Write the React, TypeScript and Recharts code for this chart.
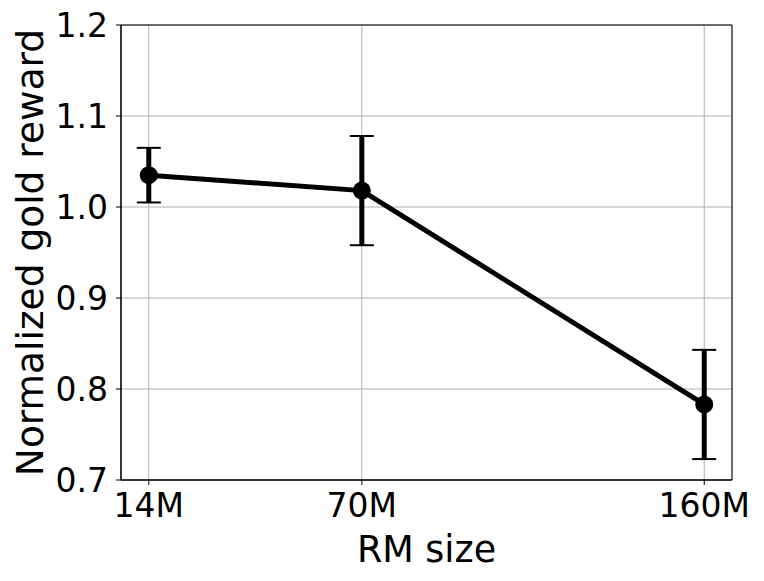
import {
  CartesianGrid,
  ErrorBar,
  Label,
  Line,
  LineChart,
  ReferenceArea,
  XAxis,
  YAxis,
} from "recharts";

const RM_SIZES = [14, 70, 160];
const GOLD_REWARD = [1.035, 1.018, 0.783];
const REWARD_ERR = [0.03, 0.06, 0.06];
const X_TICKS = [14, 70, 160];
const Y_TICKS = [0.7, 0.8, 0.9, 1.0, 1.1, 1.2];

const DATA = RM_SIZES.map((size, i) => ({
  size,
  reward: GOLD_REWARD[i],
  err: REWARD_ERR[i],
}));

const FONT = "'DejaVu Sans', sans-serif";
const X_DOMAIN: [number, number] = [6.7, 167.3];
const Y_DOMAIN: [number, number] = [0.7, 1.2];

function YTitle(props: any) {
  const vb = props.viewBox || { x: 0, y: 25, width: 121, height: 455 };
  const cx = 30;
  const cy = vb.y + vb.height / 2;
  return (
    <text
      x={cx}
      y={cy}
      transform={`rotate(-90 ${cx} ${cy})`}
      textAnchor="middle"
      dominantBaseline="central"
      fontSize={37.5}
      fontFamily={FONT}
      fill="#000"
    >
      Normalized gold reward
    </text>
  );
}

function XTitle(props: any) {
  const vb = props.viewBox || { x: 121, y: 480, width: 611, height: 101 };
  return (
    <text
      x={vb.x + vb.width / 2}
      y={562}
      textAnchor="middle"
      fontSize={36.5}
      fontFamily={FONT}
      fill="#000"
    >
      RM size
    </text>
  );
}

export default function App() {
  return (
    <div style={{ width: 764, height: 581, background: "#fff" }}>
      <style>{"body{margin:0}"}</style>
      <LineChart
        width={764}
        height={581}
        data={DATA}
        margin={{ top: 25, right: 32, left: 0, bottom: 0 }}
      >
        <CartesianGrid stroke="#b0b0b0" strokeWidth={1} />
        <XAxis
          type="number"
          dataKey="size"
          domain={X_DOMAIN}
          ticks={X_TICKS}
          allowDataOverflow
          tickFormatter={(v) => `${v}M`}
          height={101}
          stroke="#000"
          tickSize={5}
          tickMargin={9}
          tick={{ fontSize: 33, fill: "#000", fontFamily: FONT }}
        >
          <Label content={<XTitle />} />
        </XAxis>
        <YAxis
          type="number"
          domain={Y_DOMAIN}
          ticks={Y_TICKS}
          allowDataOverflow
          tickFormatter={(v) => v.toFixed(1)}
          width={121}
          stroke="#000"
          tickSize={5}
          tickMargin={8}
          tick={{ fontSize: 33, fill: "#000", fontFamily: FONT }}
        >
          <Label content={<YTitle />} />
        </YAxis>
        <ReferenceArea
          x1={X_DOMAIN[0]}
          x2={X_DOMAIN[1]}
          y1={Y_DOMAIN[0]}
          y2={Y_DOMAIN[1]}
          fill="none"
          stroke="#000"
          strokeWidth={1}
          ifOverflow="visible"
        />
        <Line
          dataKey="reward"
          stroke="#000"
          strokeWidth={5}
          dot={{ r: 9, fill: "#000", stroke: "#000", strokeWidth: 0 }}
          activeDot={false}
          isAnimationActive={false}
        >
          <ErrorBar dataKey="err" direction="y" width={0} stroke="#000" strokeWidth={5} isAnimationActive={false} />
          <ErrorBar dataKey="err" direction="y" width={12} stroke="#000" strokeWidth={2} isAnimationActive={false} />
        </Line>
      </LineChart>
    </div>
  );
}
